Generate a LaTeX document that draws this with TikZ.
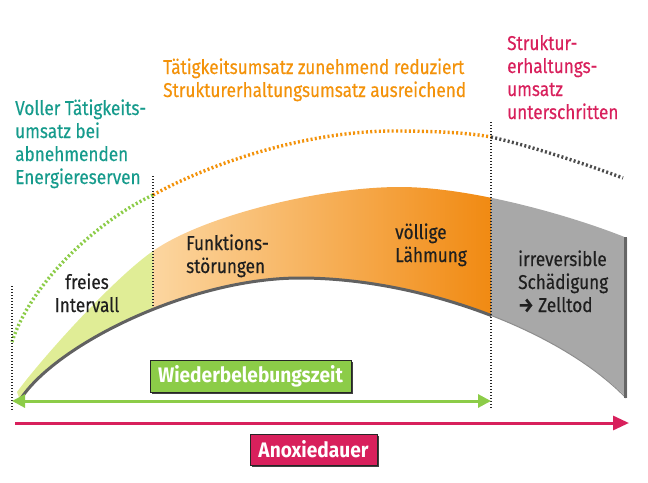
\documentclass[tikz,border=0pt]{standalone}
\usepackage{fontspec}
\setmainfont{Fira Sans}[FakeStretch=0.86, FakeBold=0.35]
\newfontfamily\tagfont{Fira Sans}[FakeStretch=0.91]
\usetikzlibrary{arrows.meta,calc,shadows}

\definecolor{tealtext}{RGB}{22,155,140}
\definecolor{orangetext}{RGB}{243,146,10}
\definecolor{crimson}{RGB}{216,32,92}
\definecolor{lgreen}{RGB}{140,204,72}
\definecolor{palegreen}{RGB}{224,237,150}
\definecolor{orlight}{RGB}{252,214,160}
\definecolor{ordark}{RGB}{241,138,18}
\definecolor{bandgray}{RGB}{168,168,168}

\tikzset{
    lbl/.style={font=\fontsize{20}{23}\selectfont, inner sep=0pt, anchor=base west, align=left},
    sep/.style={line width=1.4pt, dash pattern=on 1.4pt off 1.6pt, black!85},
    dots/.style={line width=3.4pt, dash pattern=on 2pt off 2.3pt},
    tag/.style={draw=black!85, line width=1pt, text=white, inner sep=0pt,
        font=\tagfont\fontsize{21}{24}\selectfont\bfseries,
        drop shadow={shadow xshift=2pt, shadow yshift=-2pt, fill=black!75, opacity=1}},
}

\begin{document}
\begin{tikzpicture}[x=1pt, y=-1pt]

    \useasboundingbox (0,0) rectangle (648,482);

    % band
    \path[save path=\band]
        (17,392) .. controls (42,358) and (113,279) .. (153,251)
        .. controls (203,216) and (320,187) .. (400,187)
        .. controls (470,187) and (570,215) .. (627,238)
        -- (627,398) .. controls (560,330) and (420,278) .. (300,278)
        .. controls (190,278) and (55,345) .. (20,400) -- cycle;

    \begin{scope}
        \clip[use path=\band];
        \fill[palegreen] (0,100) rectangle (153,450);
        \shade[left color=orlight, right color=ordark] (153,100) rectangle (491,450);
        \fill[bandgray] (491,100) rectangle (648,450);
    \end{scope}

    \draw[line width=1pt, black!45] (300,278) .. controls (420,278) and (560,330) .. (626,398);
    \begin{scope}
        \clip (0,250) rectangle (491,420);
        \draw[line width=3pt, black!62] (20,400) .. controls (55,345) and (190,278) .. (300,278)
            .. controls (420,278) and (560,330) .. (626,398);
    \end{scope}
    \draw[line width=3.5pt, black!60] (625.5,237) -- (625.5,398);

    % dotted curve above the band
    \coordinate (c0) at (12,342);
    \coordinate (c1) at (153,195);
    \coordinate (c2) at (390,131);
    \coordinate (c3) at (491,137);
    \coordinate (c4) at (623,178);

    \draw[dots, lgreen] (c0) .. controls (30,285) and (95,222) .. (c1);
    \draw[dots, orangetext] (c1) .. controls (205,166) and (300,132) .. (c2)
        .. controls (440,131) and (470,133) .. (c3);
    \draw[dots, black!70] (c3) .. controls (530,146) and (580,162) .. (c4);

    % separators
    \coordinate (s0a) at (12,286);
    \coordinate (s0b) at (12,410);
    \coordinate (s1a) at (153,176);
    \coordinate (s1b) at (153,307);
    \coordinate (s2a) at (491,122);
    \coordinate (s2b) at (491,409);

    \draw[sep] (s0a) -- (s0b);
    \draw[sep] (s1a) -- (s1b);
    \draw[sep] (s2a) -- (s2b);

    % time arrows
    \coordinate (wL) at (12,401);
    \coordinate (wR) at (491,401);
    \coordinate (aL) at (15,423);
    \coordinate (aR) at (629,423);

    \draw[line width=3pt, lgreen, {Triangle[length=13pt,width=13pt]}-{Triangle[length=13pt,width=13pt]}] (wL) -- (wR);
    \draw[line width=3pt, crimson, -{Triangle[length=16pt,width=14pt]}] (aL) -- (aR);

    \node[tag, fill=lgreen, minimum width=201pt, minimum height=32pt] (wbz) at (250.5,376) {Wiederbelebungszeit};
    \node[tag, fill=crimson, minimum width=127pt, minimum height=31pt] (anox) at (313.5,449.5) {Anoxiedauer};

    % texts (anchored at the last line)
    \node[lbl, text=tealtext] (voll) at (15,184) {Voller Tätigkeits-\\umsatz bei\\abnehmenden\\Energiereserven};
    \node[lbl, text=orangetext] (redu) at (163,97) {Tätigkeitsumsatz zunehmend reduziert\\Strukturerhaltungsumsatz ausreichend};
    \node[lbl, text=crimson] (unter) at (507,119) {Struktur-\\erhaltungs-\\umsatz\\unterschritten};

    \node[lbl, align=center, anchor=base, text=black!88] (frei) at (87,312) {freies\\Intervall};
    \node[lbl, text=black!88] (funk) at (186,273) {Funktions-\\störungen};
    \node[lbl, text=black!88] (laeh) at (395,262) {völlige\\Lähmung};
    \node[lbl, text=black!88] (tod) at (518,312) {irreversible\\Schädigung\\\textbf{→} Zelltod};

\end{tikzpicture}
\end{document}
